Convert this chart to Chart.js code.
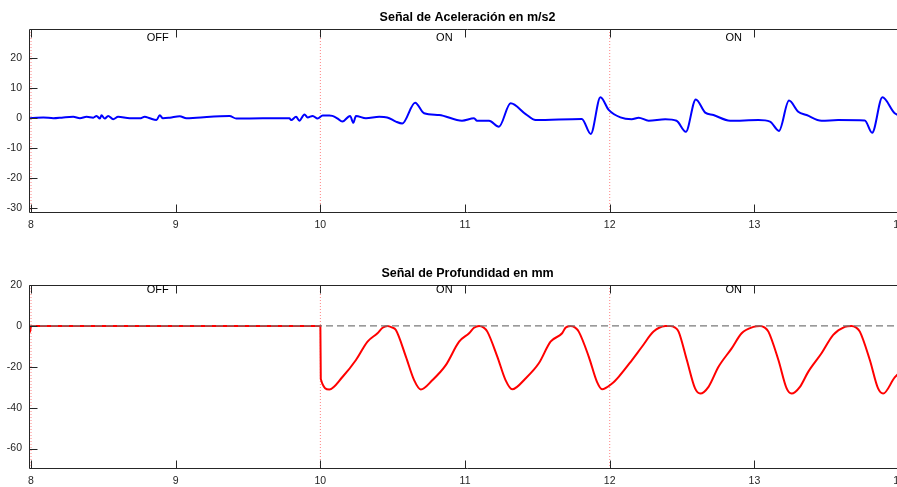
<!DOCTYPE html>
<html>
<head>
<meta charset="utf-8">
<script src="https://cdn.jsdelivr.net/npm/chart.js@4/dist/chart.umd.min.js"></script>
<style>
  html, body { margin: 0; padding: 0; background: #fff; overflow: hidden; width: 897px; height: 487px; }
  .box { position: absolute; left: 0; width: 920px; height: 240px; }
  canvas { display: block; }
</style>
</head>
<body>
<div class="box" style="top:0px"><canvas id="c1" width="920" height="240"></canvas></div>
<div class="box" style="top:256px"><canvas id="c2" width="920" height="240"></canvas></div>
<script>
// ---------- data ----------
const xTicks = [8, 9, 10, 11, 12, 13, 14];
const accelTicks = [-30, -20, -10, 0, 10, 20];
const depthTicks = [-60, -40, -20, 0, 20];
const markerX = [8, 10, 12];
const stateX = [8.8, 10.8, 12.8];
const stateText = ['OFF', 'ON', 'ON'];

const accelT = [7.986, 7.993, 8.085, 8.154, 8.223, 8.292, 8.338, 8.384, 8.43, 8.453, 8.476, 8.487, 8.51, 8.533, 8.568, 8.602, 8.683, 8.752, 8.786, 8.821, 8.867, 8.89, 8.912, 8.959, 9.028, 9.074, 9.143, 9.372, 9.419, 9.602, 9.786, 9.798, 9.832, 9.855, 9.89, 9.912, 9.947, 9.981, 10.016, 10.062,
  10.083, 10.117, 10.152, 10.205, 10.228, 10.246, 10.315, 10.407, 10.462, 10.522, 10.566, 10.655, 10.717, 10.821, 10.979, 11.062, 11.083, 11.166, 11.234, 11.315, 11.419, 11.488, 11.807, 11.869, 11.936, 11.993, 12.074, 12.152, 12.2, 12.269, 12.384, 12.462, 12.526, 12.595, 12.66, 12.717, 12.832, 13.028, 13.108, 13.17, 13.239, 13.303, 13.361, 13.464, 13.579, 13.763, 13.814, 13.885, 13.97, 14.048];
const accelV = [-0.1, -0.1, 0.2, -0.1, 0.2, 0.4, -0.1, 0.4, 0.1, 0.7, -0.2, 0.9, -0.2, 0.7, -0.4, 0.4, -0.1, -0.1, 0.4, -0.1, -0.7, 0.9, -0.1, 0.1, 0.6, -0.1, 0.1, 0.7, -0.2, -0.1, -0.1, -0.7, 0.4, -0.9, 1.2, 0.2, 0.7, -0.2, 0.8, 0.8,
  0.7, -0.1, -1.2, 0.7, -1.6, 0.7, -0.1, 0.4, 0.2, -1.2, -1.8, 5.1, 1.6, 1.0, -0.9, -0.1, -0.9, -0.9, -2.9, 4.9, 1.3, -0.7, -0.3, -5.3, 6.9, 2.7, 0.2, -0.4, 0.1, -0.9, -0.4, -0.9, -4.6, 6.2, 1.8, 1.0, -0.9, -0.7, -1.2, -4.3, 5.8, 2.1, 1.0, -0.9, -0.7, -0.8, -4.9, 6.9, 1.6, 0.2];

const depthT = [7.986, 7.993, 8.0, 10.0, 10.003, 10.062, 10.154, 10.246, 10.326, 10.395, 10.43, 10.464, 10.494, 10.522, 10.591, 10.648, 10.694, 10.775, 10.867, 10.959, 11.028, 11.062, 11.097, 11.127, 11.154, 11.223, 11.28, 11.326, 11.418, 11.51, 11.591, 11.671, 11.694, 11.729, 11.759, 11.786, 11.855, 11.912, 11.947, 12.016, 12.062, 12.154, 12.223, 12.303, 12.384, 12.419, 12.449, 12.476, 12.533, 12.59, 12.626, 12.683, 12.752, 12.843, 12.912, 12.993, 13.039, 13.069, 13.097, 13.166, 13.223, 13.257, 13.315, 13.372, 13.464, 13.545, 13.625, 13.671, 13.701, 13.729, 13.798, 13.855, 13.89, 13.97, 14.048];
const depthV = [-3, -3, 0, 0, -26, -31.1, -24.9, -16.7, -7.7, -3.6, -0.9, 0, -0.7, -2, -15, -26.5, -31.1, -26.5, -19.2, -7.7, -3.6, -0.9, 0, -0.7, -2.8, -15, -26.5, -31, -25.7, -18.3, -7.7, -3.6, -0.9, 0, -0.7, -2.8, -15, -27.4, -31, -28.2, -24.9, -16.7, -10.2, -2.8, -0.1, 0, -0.7, -2.8, -16.7, -30.6, -33.1, -29.8, -20, -11, -3.6, -0.5, 0, -0.7, -2.8, -16.7, -30.6, -33.1, -29.8, -22.5, -13.4, -4.4, -0.5, 0, -0.7, -2.8, -16.7, -30.6, -33.1, -25.2, -20];

// ---------- helpers ----------
const FONT = "'Liberation Sans', Arial, Helvetica, sans-serif";
const AX = '#262626';
const pts = (xs, ys) => xs.map((x, i) => ({ x: x, y: ys[i] }));

const framePlugin = {
  id: 'frame',
  afterDatasetsDraw(chart, args, opts) {
    const ctx = chart.ctx, a = chart.chartArea;
    const xs = chart.scales.x, ys = chart.scales.y;
    ctx.save();
    ctx.strokeStyle = AX; ctx.lineWidth = 1;
    const L = Math.round(a.left) + 0.5, R = Math.round(a.right) - 0.5;
    const T = Math.round(a.top) + 0.5, B = Math.round(a.bottom) - 0.5;
    ctx.beginPath();
    ctx.rect(L, T, R - L, B - T);
    const tl = 8;
    ys.ticks.forEach(t => {
      const p = Math.round(ys.getPixelForValue(t.value)) + 0.5;
      ctx.moveTo(L, p); ctx.lineTo(L + tl, p);
      ctx.moveTo(R, p); ctx.lineTo(R - tl, p);
    });
    xs.ticks.forEach(t => {
      const p = Math.round(xs.getPixelForValue(t.value)) + 0.5;
      ctx.moveTo(p, B); ctx.lineTo(p, B - tl);
      ctx.moveTo(p, T); ctx.lineTo(p, T + tl);
    });
    ctx.stroke();
    // title centred over the plot box
    ctx.fillStyle = '#000';
    ctx.font = 'bold 12.5px ' + FONT;
    ctx.textAlign = 'center'; ctx.textBaseline = 'middle';
    ctx.fillText(opts.title, (a.left + a.right) / 2, 18);
    // state annotations
    ctx.font = '11px ' + FONT;
    ctx.textAlign = 'left';
    stateX.forEach((x, i) => {
      ctx.fillText(stateText[i], xs.getPixelForValue(x), ys.getPixelForValue(opts.labelY));
    });
    ctx.restore();
  }
};

function makeChart(id, title, yMin, yMax, yTicks, labelY, signal, color, extra) {
  const datasets = [{
    data: signal, borderColor: color, borderWidth: 2, pointRadius: 0,
    cubicInterpolationMode: 'monotone', order: 2
  }];
  markerX.forEach(m => datasets.push({
    data: [{ x: m, y: yMin }, { x: m, y: yMax }],
    borderColor: 'rgba(255,90,90,0.75)', borderWidth: 1, borderDash: [1, 2],
    pointRadius: 0, order: 5
  }));
  (extra || []).forEach(d => datasets.push(d));
  return new Chart(document.getElementById(id), {
    type: 'line',
    data: { datasets: datasets },
    plugins: [framePlugin],
    options: {
      responsive: false, animation: false, events: [],
      layout: { padding: { left: 0, right: 14, top: 29, bottom: 0 } },
      plugins: {
        legend: { display: false }, tooltip: { enabled: false },
        title: { display: false },
        frame: { labelY: labelY, title: title }
      },
      scales: {
        x: {
          type: 'linear', min: 7.986, max: 14.048,
          afterBuildTicks: s => { s.ticks = xTicks.map(v => ({ value: v })); },
          afterFit: s => { s.height = 27; },
          grid: { display: false, drawTicks: false }, border: { display: false },
          ticks: { color: AX, padding: 6, font: { family: FONT, size: 10.5 }, maxRotation: 0,
            callback: v => String(v) }
        },
        y: {
          type: 'linear', min: yMin, max: yMax,
          afterBuildTicks: s => { s.ticks = yTicks.map(v => ({ value: v })); },
          afterFit: s => { s.width = 29; },
          grid: { display: false, drawTicks: false }, border: { display: false },
          ticks: { color: AX, padding: 7, font: { family: FONT, size: 10.5 },
            callback: v => String(v) }
        }
      }
    }
  });
}

makeChart('c1', 'Señal de Aceleración en m/s2', -31.67, 29.67, accelTicks, 26.7,
  pts(accelT, accelV), '#0000ff');

makeChart('c2', 'Señal de Profundidad en mm', -70, 20, depthTicks, 17.6,
  pts(depthT, depthV), '#ff0000', [{
    data: [{ x: 7.986, y: 0 }, { x: 14.048, y: 0 }],
    borderColor: '#7a7a7a', borderWidth: 1.2, borderDash: [7, 4], pointRadius: 0, order: 1
  }]);
</script>
</body>
</html>
